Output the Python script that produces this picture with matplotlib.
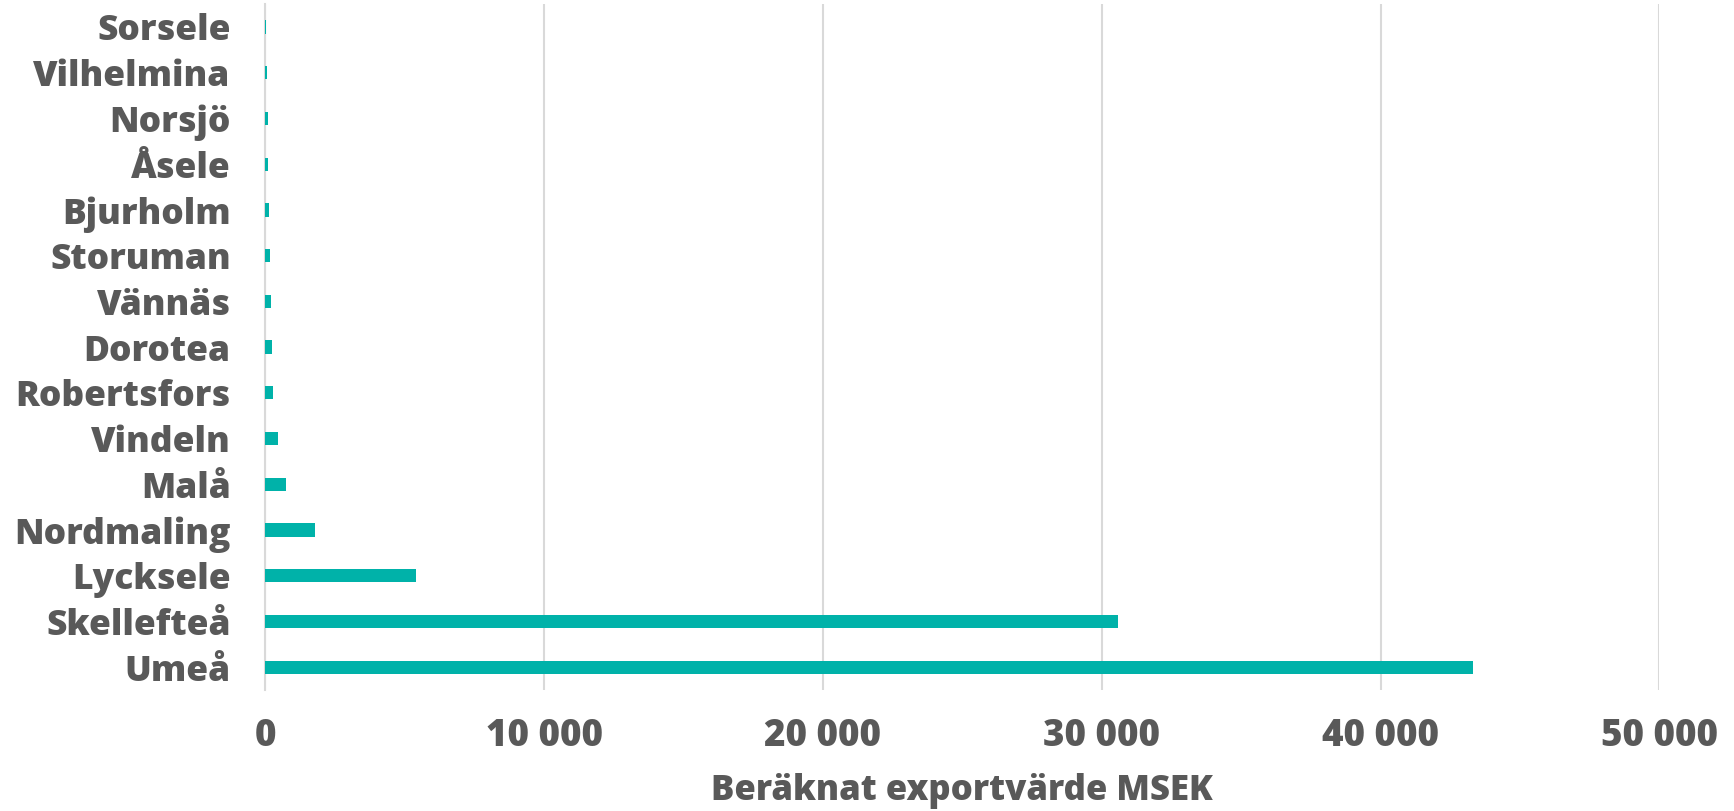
import matplotlib.pyplot as plt
from matplotlib.ticker import FuncFormatter

kommuner = ['Umeå', 'Skellefteå', 'Lycksele', 'Nordmaling', 'Malå', 'Vindeln',
            'Robertsfors', 'Dorotea', 'Vännäs', 'Storuman', 'Bjurholm', 'Åsele',
            'Norsjö', 'Vilhelmina', 'Sorsele']
export_msek = [43320, 30590, 5420, 1790, 730, 455,
               275, 240, 190, 155, 120, 95,
               90, 45, 15]
xticks = [0, 10000, 20000, 30000, 40000, 50000]

grey = '#595959'
teal = '#00B2A9'

plt.rcParams['font.family'] = ['Open Sans', 'DejaVu Sans']

fig = plt.figure(figsize=(17.34, 8.11), dpi=100)
ax = fig.add_axes([0.153, 0.149, 0.804, 0.846])

ax.barh(range(len(kommuner)), export_msek, height=0.29, color=teal, zorder=3)
ax.set_ylim(-0.5, len(kommuner) - 0.5)
ax.set_xlim(0, 50000)
ax.set_xticks(xticks)
ax.xaxis.set_major_formatter(FuncFormatter(lambda v, p: '{:,}'.format(int(v)).replace(',', ' ')))
ax.set_yticks(range(len(kommuner)))
ax.set_yticklabels(kommuner)

for lbl in ax.get_xticklabels():
    lbl.set_fontweight('heavy')
    lbl.set_color(grey)
    lbl.set_fontsize(26.5)
for lbl in ax.get_yticklabels():
    lbl.set_fontweight('heavy')
    lbl.set_color(grey)
    lbl.set_fontsize(25.5)
ax.tick_params(axis='x', length=0, pad=20)
ax.tick_params(axis='y', length=0, pad=25)

ax.grid(axis='x', color='#d9d9d9', linewidth=1.5, zorder=0)
for s in ['top', 'right', 'bottom']:
    ax.spines[s].set_visible(False)
ax.spines['left'].set_color('#d9d9d9')
ax.spines['left'].set_linewidth(1.5)

ax.set_xlabel('Beräknat exportvärde MSEK', fontsize=25, fontweight='heavy',
              color=grey, labelpad=13)

fig.savefig('out.png', dpi=100)
